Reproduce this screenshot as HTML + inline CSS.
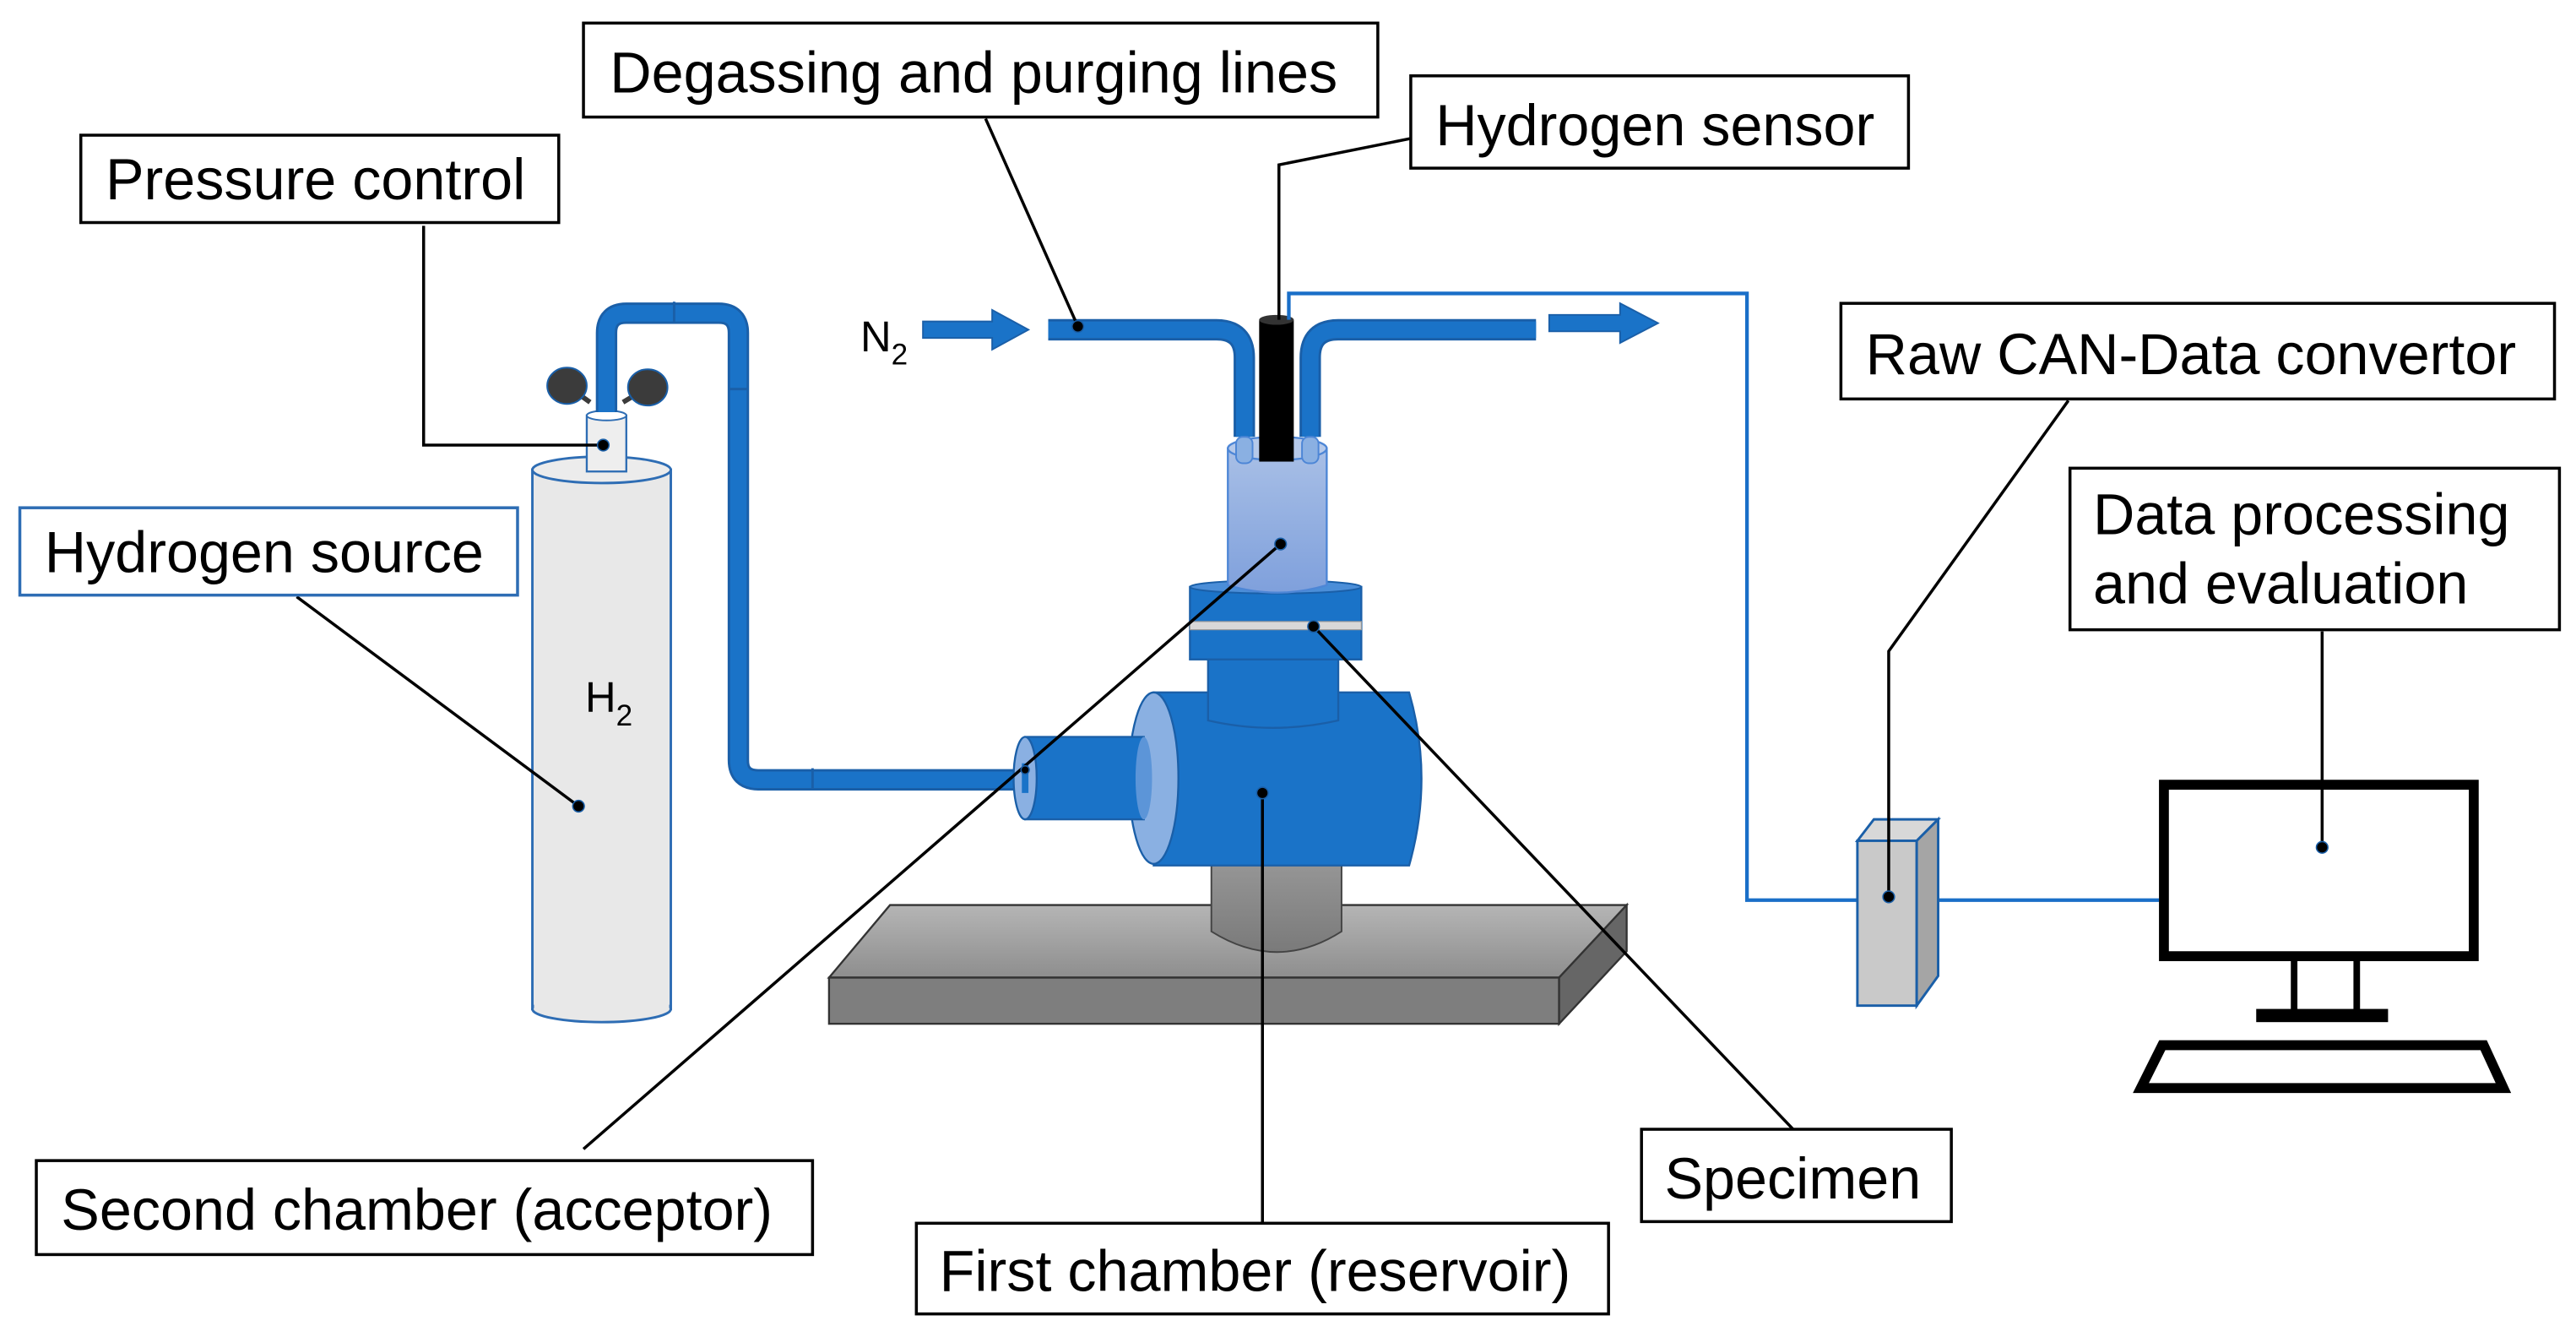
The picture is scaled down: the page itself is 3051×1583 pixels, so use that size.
<!DOCTYPE html>
<html><head><meta charset="utf-8"><style>
html,body{margin:0;padding:0;background:#fff;}
svg{display:block;}
text{font-family:"Liberation Sans",Arial,sans-serif;fill:#000;}
</style></head><body>
<svg width="3051" height="1583" viewBox="0 0 1563 811" xmlns="http://www.w3.org/2000/svg">
<defs>
<linearGradient id="acc" x1="0" y1="0" x2="0" y2="1"><stop offset="0" stop-color="#a8bfe6"/><stop offset="1" stop-color="#7fa0dc"/></linearGradient>
<linearGradient id="base" x1="0" y1="0" x2="0" y2="1"><stop offset="0" stop-color="#b5b5b5"/><stop offset="1" stop-color="#8e8e8e"/></linearGradient>
<linearGradient id="post" x1="0" y1="0" x2="0" y2="1"><stop offset="0" stop-color="#9a9a9a"/><stop offset="1" stop-color="#7a7a7a"/></linearGradient>
</defs>

<polygon points="503,593 540,549 987,549 946,593" fill="url(#base)" stroke="#333" stroke-width="1.2"/>
<rect x="503" y="593" width="443" height="28" fill="#7e7e7e" stroke="#333" stroke-width="1.2"/>
<polygon points="946,593 987,549 987,577 946,621" fill="#666" stroke="#333" stroke-width="1.2"/>
<path d="M735,515 L735,565 Q775,590 814,565 L814,515 Z" fill="url(#post)" stroke="#444" stroke-width="1"/>

<rect x="323" y="285" width="84" height="327" fill="#e8e8e8" stroke="#2e6db4" stroke-width="1.5"/>
<ellipse cx="365" cy="612" rx="42" ry="8" fill="#e8e8e8" stroke="#2e6db4" stroke-width="1.5"/>
<rect x="324" y="590" width="82" height="22" fill="#e8e8e8"/>
<ellipse cx="365" cy="285" rx="42" ry="8" fill="#ececec" stroke="#2e6db4" stroke-width="1.5"/>
<text x="355" y="432" font-size="26">H<tspan font-size="18" dy="8">2</tspan></text>
<line x1="344" y1="234" x2="358" y2="244" stroke="#3b3b3b" stroke-width="3"/>
<line x1="393" y1="235" x2="378" y2="244" stroke="#3b3b3b" stroke-width="3"/>
<ellipse cx="344" cy="234" rx="12" ry="11" fill="#3b3b3b" stroke="#1a5fa8" stroke-width="1"/>
<ellipse cx="393" cy="235" rx="12" ry="11" fill="#3b3b3b" stroke="#1a5fa8" stroke-width="1"/>
<rect x="356" y="252" width="24" height="34" fill="#eee" stroke="#2e6db4" stroke-width="1.2"/>
<ellipse cx="368" cy="252" rx="12" ry="3" fill="#fff" stroke="#2e6db4" stroke-width="1"/>

<path d="M368,250 L368,202 Q368,190 380,190 L436,190 Q448,190 448,202 L448,461 Q448,473 460,473 L622,473" fill="none" stroke="#1a5fa8" stroke-width="13"/>
<path d="M368,250 L368,202 Q368,190 380,190 L436,190 Q448,190 448,202 L448,461 Q448,473 460,473 L622,473" fill="none" stroke="#1a73c8" stroke-width="10"/>
<line x1="409" y1="183" x2="409" y2="196" stroke="#1a5fa8" stroke-width="1.5"/>
<line x1="442" y1="236" x2="454" y2="236" stroke="#1a5fa8" stroke-width="1.5"/>
<line x1="493" y1="466" x2="493" y2="479" stroke="#1a5fa8" stroke-width="1.5"/>

<path d="M700,420 L855,420 Q870,472 855,525 L700,525 Z" fill="#1a73c8" stroke="#1a5fa8" stroke-width="1.2"/>
<ellipse cx="700" cy="472" rx="15" ry="52" fill="#8ab0e2" stroke="#1a5fa8" stroke-width="1.2"/>
<path d="M733,398 L733,437 Q772,446 812,437 L812,398 Z" fill="#1a73c8" stroke="#1a5fa8" stroke-width="1.2"/>
<rect x="622" y="447" width="72" height="50" fill="#1a73c8" stroke="#1a5fa8" stroke-width="1.2"/>
<ellipse cx="694" cy="472" rx="5" ry="25" fill="#5c95d8"/>
<ellipse cx="622" cy="472" rx="7" ry="25" fill="#8ab0e2" stroke="#1a5fa8" stroke-width="1.2"/>
<rect x="620" y="463" width="4" height="18" fill="#1a73c8"/>
<rect x="722" y="356" width="104" height="44" fill="#1a73c8" stroke="#1a5fa8" stroke-width="1.2"/>
<ellipse cx="774" cy="356" rx="52" ry="4" fill="#4b8ed8" stroke="#1a5fa8" stroke-width="1"/>
<rect x="722" y="377" width="104" height="5" fill="#d8d8d8" stroke="#999" stroke-width="0.6"/>
<path d="M745,272 L745,355 Q775,364 805,355 L805,272 Z" fill="url(#acc)" stroke="#4d86d6" stroke-width="1.2"/>
<ellipse cx="775" cy="272" rx="30" ry="7" fill="#b5c9ea" stroke="#4d86d6" stroke-width="1.2"/>
<path d="M636,200 L738,200 Q755,200 755,217 L755,265" fill="none" stroke="#1a5fa8" stroke-width="13"/>
<path d="M636,200 L738,200 Q755,200 755,217 L755,265" fill="none" stroke="#1a73c8" stroke-width="10"/>
<path d="M795,265 L795,217 Q795,200 812,200 L932,200" fill="none" stroke="#1a5fa8" stroke-width="13"/>
<path d="M795,265 L795,217 Q795,200 812,200 L932,200" fill="none" stroke="#1a73c8" stroke-width="10"/>
<rect x="750" y="265" width="10" height="16" rx="4" fill="#8ab0e2" stroke="#4d86d6" stroke-width="1"/>
<rect x="790" y="265" width="10" height="16" rx="4" fill="#8ab0e2" stroke="#4d86d6" stroke-width="1"/>
<rect x="764" y="194" width="21" height="86" fill="#000"/>
<ellipse cx="774.5" cy="194" rx="10.5" ry="3" fill="#333"/>
<polyline points="782,194 782,178 1060,178 1060,546 1310,546" fill="none" stroke="#1a6fc8" stroke-width="2.2"/>
<polygon points="560,195 602,195 602,188 624,200 602,212 602,205 560,205" fill="#1a73c8" stroke="#1a5fa8" stroke-width="1"/>
<polygon points="940,191 983,191 983,184 1006,196 983,208 983,201 940,201" fill="#1a73c8" stroke="#1a5fa8" stroke-width="1"/>
<text x="522" y="213" font-size="26">N<tspan font-size="18" dy="8">2</tspan></text>

<polygon points="1127,510 1137,497 1176,497 1163,510" fill="#d8d8d8" stroke="#1a5fa8" stroke-width="1.5"/>
<rect x="1127" y="510" width="36" height="100" fill="#c9c9c9" stroke="#1a5fa8" stroke-width="1.5"/>
<polygon points="1163,510 1176,497 1176,592 1163,610" fill="#a5a5a5" stroke="#1a5fa8" stroke-width="1.5"/>
<rect x="1313" y="476" width="188" height="104" fill="#fff" stroke="#000" stroke-width="6"/>
<line x1="1392" y1="580" x2="1392" y2="614" stroke="#000" stroke-width="4"/>
<line x1="1430" y1="580" x2="1430" y2="614" stroke="#000" stroke-width="4"/>
<rect x="1369" y="612" width="80" height="8" fill="#000"/>
<polygon points="1312,634 1507,634 1519,660 1299,660" fill="#fff" stroke="#000" stroke-width="6"/>

<g stroke="#000" stroke-width="1.8" fill="none">
<polyline points="257,137 257,270 366,270"/>
<line x1="180" y1="362" x2="351" y2="489"/>
<line x1="598" y1="72" x2="654" y2="198"/>
<polyline points="856,84 776,100 776,194"/>
<line x1="354" y1="697" x2="777" y2="330"/>
<polyline points="766,742 766,481"/>
<line x1="1088" y1="685" x2="797" y2="380"/>
<polyline points="1255,243 1146,395 1146,544"/>
<line x1="1409" y1="383" x2="1409" y2="514"/>
</g>
<g fill="#000" stroke="#1a5fa8" stroke-width="0.8">
<circle cx="366" cy="270" r="3.5"/><circle cx="351" cy="489" r="3.5"/><circle cx="654" cy="198" r="3.5"/>
<circle cx="777" cy="330" r="3.5"/><circle cx="766" cy="481" r="3.5"/><circle cx="797" cy="380" r="3.5"/>
<circle cx="1146" cy="544" r="3.5"/><circle cx="1409" cy="514" r="3.5"/><circle cx="622" cy="467" r="2.5"/>
</g>

<g fill="#fff" stroke="#000" stroke-width="1.8">
<rect x="354" y="14" width="482" height="57"/>
<rect x="856" y="46" width="302" height="56"/>
<rect x="49" y="82" width="290" height="53"/>
<rect x="1117" y="184" width="433" height="58"/>
<rect x="1256" y="284" width="297" height="98"/>
<rect x="22" y="704" width="471" height="57"/>
<rect x="556" y="742" width="420" height="55"/>
<rect x="996" y="685" width="188" height="56"/>
</g>
<rect x="12" y="308" width="302" height="53" fill="#fff" stroke="#2e6db4" stroke-width="1.8"/>
<g font-size="35">
<text x="370" y="56">Degassing and purging lines</text>
<text x="871" y="88">Hydrogen sensor</text>
<text x="64" y="121">Pressure control</text>
<text x="27" y="347">Hydrogen source</text>
<text x="1132" y="227">Raw CAN-Data convertor</text>
<text x="1270" y="324">Data processing</text>
<text x="1270" y="366">and evaluation</text>
<text x="37" y="746">Second chamber (acceptor)</text>
<text x="570" y="783">First chamber (reservoir)</text>
<text x="1010" y="727">Specimen</text>
</g>
</svg>
</body></html>
